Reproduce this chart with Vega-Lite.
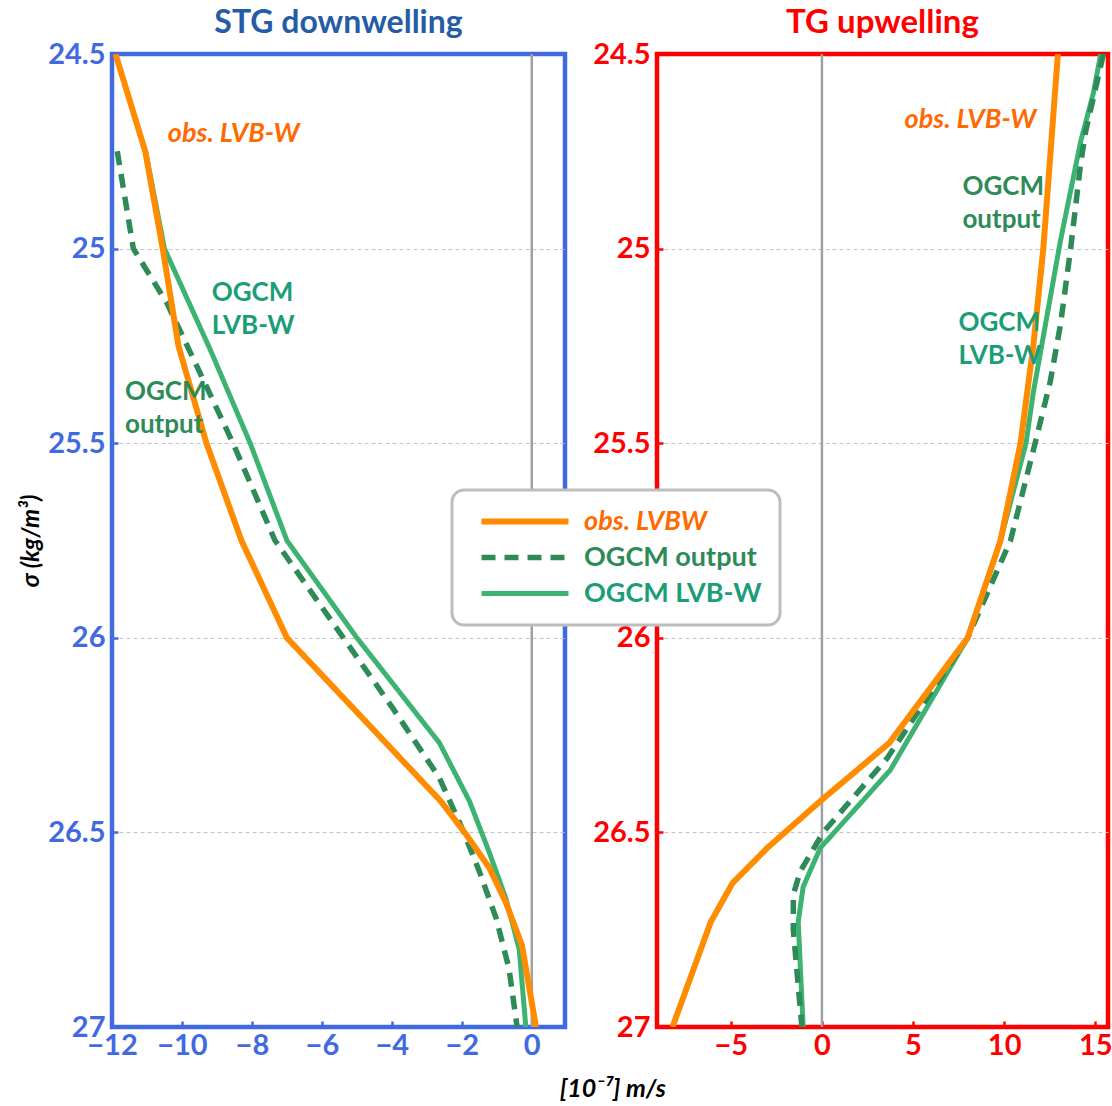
{
  "$schema": "https://vega.github.io/schema/vega-lite/v6.json",
  "padding": {"left": 17, "top": 4, "right": 2, "bottom": 2},
  "config": {"font": "Lato", "view": {"stroke": null}},
  "title": {"text": "[10⁻⁷] m/s", "orient": "bottom", "anchor": "middle", "fontSize": 25, "fontStyle": "italic", "fontWeight": "bold", "color": "black", "offset": 15, "dx": 47},
  "datasets": {
    "profiles": [
      {"panel": "L", "series": "OGCM LVB-W", "sigma": 24.75, "w": -11.04},
      {"panel": "L", "series": "OGCM LVB-W", "sigma": 25.0, "w": -10.5},
      {"panel": "L", "series": "OGCM LVB-W", "sigma": 25.26, "w": -9.19},
      {"panel": "L", "series": "OGCM LVB-W", "sigma": 25.5, "w": -8.05},
      {"panel": "L", "series": "OGCM LVB-W", "sigma": 25.75, "w": -7.0},
      {"panel": "L", "series": "OGCM LVB-W", "sigma": 26.0, "w": -5.0},
      {"panel": "L", "series": "OGCM LVB-W", "sigma": 26.27, "w": -2.64},
      {"panel": "L", "series": "OGCM LVB-W", "sigma": 26.42, "w": -1.78},
      {"panel": "L", "series": "OGCM LVB-W", "sigma": 26.55, "w": -1.22},
      {"panel": "L", "series": "OGCM LVB-W", "sigma": 26.67, "w": -0.74},
      {"panel": "L", "series": "OGCM LVB-W", "sigma": 26.8, "w": -0.36},
      {"panel": "L", "series": "OGCM LVB-W", "sigma": 27.0, "w": -0.17},
      {"panel": "L", "series": "OGCM output", "sigma": 24.75, "w": -11.85},
      {"panel": "L", "series": "OGCM output", "sigma": 25.0, "w": -11.39},
      {"panel": "L", "series": "OGCM output", "sigma": 25.14, "w": -10.43},
      {"panel": "L", "series": "OGCM output", "sigma": 25.32, "w": -9.48},
      {"panel": "L", "series": "OGCM output", "sigma": 25.5, "w": -8.54},
      {"panel": "L", "series": "OGCM output", "sigma": 25.75, "w": -7.34},
      {"panel": "L", "series": "OGCM output", "sigma": 26.18, "w": -3.98},
      {"panel": "L", "series": "OGCM output", "sigma": 26.36, "w": -2.64},
      {"panel": "L", "series": "OGCM output", "sigma": 26.49, "w": -1.99},
      {"panel": "L", "series": "OGCM output", "sigma": 26.6, "w": -1.5},
      {"panel": "L", "series": "OGCM output", "sigma": 26.72, "w": -1.02},
      {"panel": "L", "series": "OGCM output", "sigma": 26.85, "w": -0.65},
      {"panel": "L", "series": "OGCM output", "sigma": 27.0, "w": -0.42},
      {"panel": "L", "series": "obs. LVBW", "sigma": 24.5, "w": -11.9},
      {"panel": "L", "series": "obs. LVBW", "sigma": 24.75, "w": -11.05},
      {"panel": "L", "series": "obs. LVBW", "sigma": 25.0, "w": -10.55},
      {"panel": "L", "series": "obs. LVBW", "sigma": 25.25, "w": -10.1},
      {"panel": "L", "series": "obs. LVBW", "sigma": 25.5, "w": -9.3},
      {"panel": "L", "series": "obs. LVBW", "sigma": 25.75, "w": -8.3},
      {"panel": "L", "series": "obs. LVBW", "sigma": 26.0, "w": -7.0},
      {"panel": "L", "series": "obs. LVBW", "sigma": 26.42, "w": -2.6},
      {"panel": "L", "series": "obs. LVBW", "sigma": 26.505, "w": -1.88},
      {"panel": "L", "series": "obs. LVBW", "sigma": 26.59, "w": -1.22},
      {"panel": "L", "series": "obs. LVBW", "sigma": 26.68, "w": -0.74},
      {"panel": "L", "series": "obs. LVBW", "sigma": 26.79, "w": -0.28},
      {"panel": "L", "series": "obs. LVBW", "sigma": 27.0, "w": 0.12},
      {"panel": "R", "series": "OGCM LVB-W", "sigma": 24.5, "w": 15.3},
      {"panel": "R", "series": "OGCM LVB-W", "sigma": 24.6, "w": 14.9},
      {"panel": "R", "series": "OGCM LVB-W", "sigma": 24.725, "w": 14.2},
      {"panel": "R", "series": "OGCM LVB-W", "sigma": 24.98, "w": 13.09},
      {"panel": "R", "series": "OGCM LVB-W", "sigma": 25.37, "w": 11.6},
      {"panel": "R", "series": "OGCM LVB-W", "sigma": 25.5, "w": 11.2},
      {"panel": "R", "series": "OGCM LVB-W", "sigma": 25.75, "w": 9.8},
      {"panel": "R", "series": "OGCM LVB-W", "sigma": 26.0, "w": 8.0},
      {"panel": "R", "series": "OGCM LVB-W", "sigma": 26.34, "w": 3.75},
      {"panel": "R", "series": "OGCM LVB-W", "sigma": 26.54, "w": -0.09},
      {"panel": "R", "series": "OGCM LVB-W", "sigma": 26.64, "w": -1.03},
      {"panel": "R", "series": "OGCM LVB-W", "sigma": 26.73, "w": -1.3},
      {"panel": "R", "series": "OGCM LVB-W", "sigma": 27.0, "w": -1.03},
      {"panel": "R", "series": "OGCM output", "sigma": 24.5, "w": 15.45},
      {"panel": "R", "series": "OGCM output", "sigma": 24.7, "w": 14.47},
      {"panel": "R", "series": "OGCM output", "sigma": 24.785, "w": 14.19},
      {"panel": "R", "series": "OGCM output", "sigma": 25.0, "w": 13.65},
      {"panel": "R", "series": "OGCM output", "sigma": 25.196, "w": 13.09},
      {"panel": "R", "series": "OGCM output", "sigma": 25.342, "w": 12.53},
      {"panel": "R", "series": "OGCM output", "sigma": 25.5, "w": 11.7},
      {"panel": "R", "series": "OGCM output", "sigma": 25.75, "w": 10.35},
      {"panel": "R", "series": "OGCM output", "sigma": 26.0, "w": 8.0},
      {"panel": "R", "series": "OGCM output", "sigma": 26.31, "w": 3.57},
      {"panel": "R", "series": "OGCM output", "sigma": 26.5, "w": 0.07},
      {"panel": "R", "series": "OGCM output", "sigma": 26.6, "w": -1.19},
      {"panel": "R", "series": "OGCM output", "sigma": 26.66, "w": -1.57},
      {"panel": "R", "series": "OGCM output", "sigma": 26.75, "w": -1.57},
      {"panel": "R", "series": "OGCM output", "sigma": 27.0, "w": -1.1},
      {"panel": "R", "series": "obs. LVBW", "sigma": 24.5, "w": 12.95},
      {"panel": "R", "series": "obs. LVBW", "sigma": 25.0, "w": 12.15},
      {"panel": "R", "series": "obs. LVBW", "sigma": 25.25, "w": 11.6},
      {"panel": "R", "series": "obs. LVBW", "sigma": 25.5, "w": 10.9},
      {"panel": "R", "series": "obs. LVBW", "sigma": 25.75, "w": 9.8},
      {"panel": "R", "series": "obs. LVBW", "sigma": 26.0, "w": 8.0},
      {"panel": "R", "series": "obs. LVBW", "sigma": 26.27, "w": 3.7},
      {"panel": "R", "series": "obs. LVBW", "sigma": 26.42, "w": -0.1},
      {"panel": "R", "series": "obs. LVBW", "sigma": 26.54, "w": -3.0},
      {"panel": "R", "series": "obs. LVBW", "sigma": 26.63, "w": -4.9},
      {"panel": "R", "series": "obs. LVBW", "sigma": 26.73, "w": -6.1},
      {"panel": "R", "series": "obs. LVBW", "sigma": 27.0, "w": -8.2}
    ],
    "notes": [
      {"panel": "L", "series": "obs. LVBW", "label": "obs. LVB-W", "sigma": 24.706, "w": -8.52},
      {"panel": "L", "series": "OGCM LVB-W", "label": "OGCM\nLVB-W", "sigma": 25.115, "w": -9.15},
      {"panel": "L", "series": "OGCM output", "label": "OGCM\noutput", "sigma": 25.369, "w": -11.63},
      {"panel": "R", "series": "obs. LVBW", "label": "obs. LVB-W", "sigma": 24.67, "w": 8.15},
      {"panel": "R", "series": "OGCM output", "label": "OGCM\noutput", "sigma": 24.842, "w": 7.71},
      {"panel": "R", "series": "OGCM LVB-W", "label": "OGCM\nLVB-W", "sigma": 25.192, "w": 7.49}
    ]
  },
  "hconcat": [
    {
      "width": 453,
      "height": 973,
      "view": {"stroke": "#4169E1", "strokeWidth": 4.5},
      "title": {"text": "STG downwelling", "color": "#245DA5", "fontSize": 32, "fontWeight": "bold", "offset": 0},
      "layer": [
        {
          "data": {"values": [{}]},
          "mark": {"type": "rule", "color": "#a0a0a0", "strokeWidth": 2.5},
          "encoding": {"x": {"datum": 0, "type": "quantitative"}}
        },
        {
          "data": {"name": "profiles"},
          "transform": [{"filter": "datum.panel === 'L'"}],
          "mark": {"type": "line", "clip": true},
          "encoding": {
            "x": {"field": "w", "type": "quantitative",
              "scale": {"domain": [-12, 0.95], "nice": false, "zero": false},
              "axis": {"title": null, "values": [-12, -10, -8, -6, -4, -2, 0], "labelColor": "#4169E1", "labelFontSize": 29, "labelFontWeight": "bold", "labelFlush": false, "domain": false, "grid": false, "tickSize": -6, "tickWidth": 2.5, "tickColor": "#4169E1", "labelPadding": 10}},
            "y": {"field": "sigma", "type": "quantitative",
              "scale": {"domain": [24.5, 27], "reverse": true, "nice": false, "zero": false},
              "axis": {"title": "σ (kg/m³)", "titleFontSize": 24, "titleFontStyle": "italic", "titleFontWeight": "bold", "titleColor": "black", "titlePadding": 4, "values": [24.5, 25, 25.5, 26, 26.5, 27], "format": ".1~f", "labelColor": "#4169E1", "labelFontSize": 29, "labelFontWeight": "bold", "domain": false, "grid": true, "gridDash": [4, 3], "gridColor": "#c4c4c4", "gridWidth": 1.2, "gridOpacity": {"condition": {"test": "datum.value === 24.5 || datum.value === 27", "value": 0}, "value": 1}, "tickSize": -6, "tickWidth": 2.5, "tickColor": "#4169E1", "labelPadding": 13}},
            "order": {"field": "sigma", "type": "quantitative"},
            "color": {"field": "series", "type": "nominal",
              "scale": {"domain": ["obs. LVBW", "OGCM output", "OGCM LVB-W"], "range": ["#FF8C00", "#2E8B57", "#3CB371"]},
              "legend": {"orient": "none", "legendX": 340, "legendY": 436, "title": null, "symbolType": "M-0.2,0H8.5", "symbolSize": 400, "labelFontSize": 27, "labelFontWeight": "bold", "labelOffset": 87, "labelLimit": 400, "padding": 18, "rowPadding": 8, "strokeColor": "#bdbdbd", "fillColor": "white", "cornerRadius": 12,
                "encode": {"legend": {"update": {"strokeWidth": {"value": 3}}}, "labels": {"update": {"fill": {"signal": "datum.value === 'obs. LVBW' ? '#FF6A00' : datum.value === 'OGCM output' ? '#2E8B57' : '#1B9E77'"}, "fontStyle": {"signal": "datum.value === 'obs. LVBW' ? 'italic' : 'normal'"}}}}}},
            "strokeDash": {"field": "series", "type": "nominal",
              "scale": {"domain": ["obs. LVBW", "OGCM output", "OGCM LVB-W"], "range": [[1, 0], [14, 9], [1, 0]]}},
            "strokeWidth": {"field": "series", "type": "nominal",
              "scale": {"domain": ["obs. LVBW", "OGCM output", "OGCM LVB-W"], "range": [6, 5, 3.5]}}
          }
        },
        {
          "data": {"name": "notes"},
          "transform": [{"filter": "datum.panel === 'L' && datum.series === 'obs. LVBW'"}],
          "mark": {"type": "text", "fontSize": 27, "fontWeight": "bold", "fontStyle": "italic", "align": "center", "baseline": "middle", "color": "#FF6A00"},
          "encoding": {"x": {"field": "w", "type": "quantitative"}, "y": {"field": "sigma", "type": "quantitative"}, "text": {"field": "label"}}
        },
        {
          "data": {"name": "notes"},
          "transform": [{"filter": "datum.panel === 'L' && datum.series !== 'obs. LVBW'"}],
          "mark": {"type": "text", "fontSize": 26, "fontWeight": "bold", "align": "left", "baseline": "middle", "lineBreak": "\n", "lineHeight": 33},
          "encoding": {"x": {"field": "w", "type": "quantitative"}, "y": {"field": "sigma", "type": "quantitative"}, "text": {"field": "label"},
            "fill": {"field": "series", "type": "nominal", "scale": {"domain": ["OGCM output", "OGCM LVB-W"], "range": ["#2E8B57", "#1B9E77"]}, "legend": null}}
        }
      ]
    },
    {
      "width": 451,
      "height": 973,
      "view": {"stroke": "#FF0000", "strokeWidth": 4.5},
      "title": {"text": "TG upwelling", "color": "#FF0000", "fontSize": 33, "fontWeight": "bold", "offset": 0},
      "layer": [
        {
          "data": {"values": [{}]},
          "mark": {"type": "rule", "color": "#a0a0a0", "strokeWidth": 2.5},
          "encoding": {"x": {"datum": 0, "type": "quantitative"}}
        },
        {
          "data": {"name": "profiles"},
          "transform": [{"filter": "datum.panel === 'R'"}],
          "mark": {"type": "line", "clip": true},
          "encoding": {
            "x": {"field": "w", "type": "quantitative",
              "scale": {"domain": [-9.05, 15.7], "nice": false, "zero": false},
              "axis": {"title": null, "values": [-5, 0, 5, 10, 15], "labelColor": "#FF0000", "labelFontSize": 29, "labelFontWeight": "bold", "labelFlush": false, "domain": false, "grid": false, "tickSize": -6, "tickWidth": 2.5, "tickColor": "#FF0000", "labelPadding": 10}},
            "y": {"field": "sigma", "type": "quantitative",
              "scale": {"domain": [24.5, 27], "reverse": true, "nice": false, "zero": false},
              "axis": {"title": null, "values": [24.5, 25, 25.5, 26, 26.5, 27], "format": ".1~f", "labelColor": "#FF0000", "labelFontSize": 29, "labelFontWeight": "bold", "domain": false, "grid": true, "gridDash": [4, 3], "gridColor": "#c4c4c4", "gridWidth": 1.2, "gridOpacity": {"condition": {"test": "datum.value === 24.5 || datum.value === 27", "value": 0}, "value": 1}, "tickSize": -6, "tickWidth": 2.5, "tickColor": "#FF0000", "labelPadding": 13}},
            "order": {"field": "sigma", "type": "quantitative"},
            "color": {"field": "series", "type": "nominal",
              "scale": {"domain": ["obs. LVBW", "OGCM output", "OGCM LVB-W"], "range": ["#FF8C00", "#2E8B57", "#3CB371"]}},
            "strokeDash": {"field": "series", "type": "nominal",
              "scale": {"domain": ["obs. LVBW", "OGCM output", "OGCM LVB-W"], "range": [[1, 0], [14, 9], [1, 0]]}},
            "strokeWidth": {"field": "series", "type": "nominal",
              "scale": {"domain": ["obs. LVBW", "OGCM output", "OGCM LVB-W"], "range": [6, 5, 3.5]}}
          }
        },
        {
          "data": {"name": "notes"},
          "transform": [{"filter": "datum.panel === 'R' && datum.series === 'obs. LVBW'"}],
          "mark": {"type": "text", "fontSize": 27, "fontWeight": "bold", "fontStyle": "italic", "align": "center", "baseline": "middle", "color": "#FF6A00"},
          "encoding": {"x": {"field": "w", "type": "quantitative"}, "y": {"field": "sigma", "type": "quantitative"}, "text": {"field": "label"}}
        },
        {
          "data": {"name": "notes"},
          "transform": [{"filter": "datum.panel === 'R' && datum.series !== 'obs. LVBW'"}],
          "mark": {"type": "text", "fontSize": 26, "fontWeight": "bold", "align": "left", "baseline": "middle", "lineBreak": "\n", "lineHeight": 33},
          "encoding": {"x": {"field": "w", "type": "quantitative"}, "y": {"field": "sigma", "type": "quantitative"}, "text": {"field": "label"},
            "fill": {"field": "series", "type": "nominal", "scale": {"domain": ["OGCM output", "OGCM LVB-W"], "range": ["#2E8B57", "#1B9E77"]}, "legend": null}}
        }
      ]
    }
  ],
  "spacing": 22,
  "resolve": {"scale": {"x": "independent", "y": "independent"}}
}
